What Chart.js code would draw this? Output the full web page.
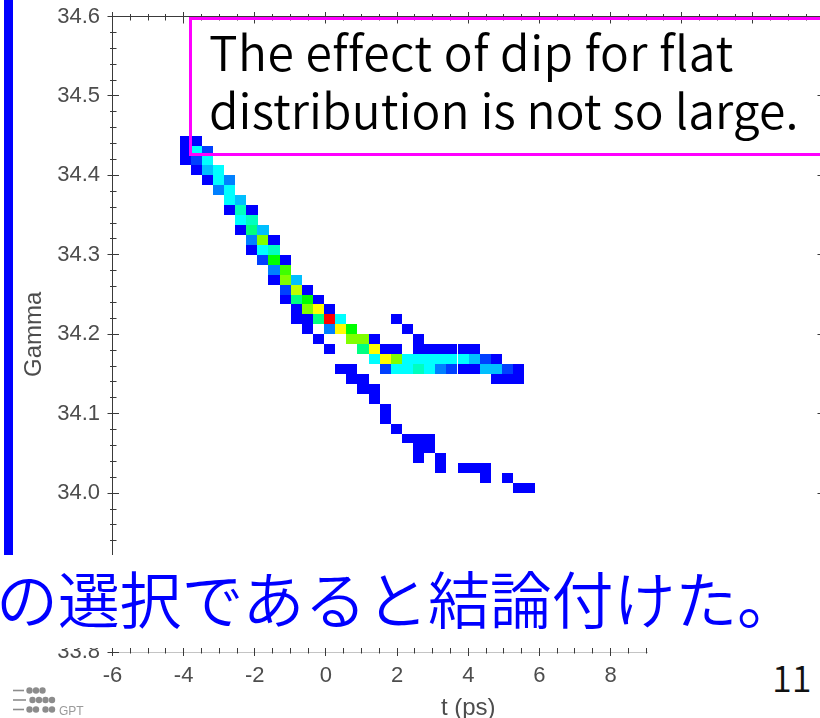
<!DOCTYPE html>
<html lang="ja">
<head>
<meta charset="utf-8">
<title>Gamma – t (ps)</title>
<script src="https://cdn.jsdelivr.net/npm/chart.js@4.4.1/dist/chart.umd.min.js"></script>
<style>
  html, body { margin: 0; padding: 0; overflow: hidden; background: #fff; width: 820px; height: 718px; }
  #stage { position: relative; width: 820px; height: 718px; overflow: hidden; }
  #chart { position: absolute; left: 0; top: 0; }
  .sidebar { position: absolute; left: 4px; top: 0; width: 8.5px; height: 555px; background: #0000ff; }
  .note { position: absolute; left: 188.75px; top: 17.25px; width: 700px; height: 139px;
          box-sizing: border-box; border: 3.5px solid #ff00ff; }
  .jp { font-family: "Noto Sans CJK JP DemiLight", "Noto Sans CJK JP Light", "Noto Sans CJK JP", sans-serif; font-weight: 300; }
  .note-text { position: absolute; left: 209px; top: 20.8px;
               font-size: 48px; line-height: 58.3px; color: #000; white-space: nowrap; }
  .note-text .l1 { letter-spacing: 0.5px; }
  .note-text .l2 { letter-spacing: 0.1px; }
  .conclusion { position: absolute; left: 0; top: 555px; width: 824px; height: 93px; background: #fff; }
  .conclusion span { position: absolute; left: -4px; top: 10.6px;
                     font-size: 62px; line-height: 62px; letter-spacing: -0.2px; color: #0000ff; white-space: nowrap; }
  .corner { position: absolute; left: 648px; top: 648px; width: 176px; height: 70px; background: #fff; }
  .page-no { position: absolute; left: 772px; top: 658px; font-size: 36px; line-height: 36px; color: #111; }
  .logo { position: absolute; left: 0; top: 680px; }
</style>
</head>
<body>
<div id="stage">
  <canvas id="chart" width="824" height="718"></canvas>
  <div class="sidebar"></div>
  <div class="note"></div>
  <div class="note-text jp"><span class="l1">The effect of dip for flat</span><br><span class="l2">distribution is not so large.</span></div>
  <div class="conclusion"><span class="jp">の選択であると結論付けた。</span></div>
  <div class="corner"></div>
  <div class="page-no jp">11</div>
  <svg class="logo" width="100" height="38" viewBox="0 0 100 38">
    <g stroke="#8c8c8c" stroke-width="1.6">
      <line x1="13" y1="10.5" x2="24" y2="10.5"/>
      <line x1="13" y1="20" x2="26" y2="20"/>
      <line x1="13" y1="29.5" x2="24" y2="29.5"/>
    </g>
    <g fill="#8c8c8c">
      <circle cx="29.5" cy="10.5" r="3.2"/><circle cx="36" cy="10.5" r="3.2"/><circle cx="42.5" cy="10.5" r="3.2"/>
      <circle cx="32.5" cy="20" r="3.2"/><circle cx="39" cy="20" r="3.2"/><circle cx="45.5" cy="20" r="3.2"/><circle cx="52" cy="20" r="3.2"/>
      <circle cx="29.5" cy="29.5" r="3.2"/><circle cx="36" cy="29.5" r="3.2"/><circle cx="45.5" cy="29.5" r="3.2"/><circle cx="52" cy="29.5" r="3.2"/>
    </g>
    <text x="59" y="35" font-family="Liberation Sans, Arial, sans-serif" font-size="12" fill="#9a9a9a">GPT</text>
  </svg>
</div>
<script>
// Histogram bin sizes of the (t, Gamma) phase-space density
const T_BIN = 0.3125;      // ps
const GAMMA_BIN = 0.0125;

// Axis ranges and tick steps
const T_RANGE = [-6, 14];
const GAMMA_RANGE = [33.8, 34.6];
const T_MAJOR = 2, T_MINOR = 0.5;
const GAMMA_MAJOR = 0.1, GAMMA_MINOR = 0.02;

// Gamma bin centres of the populated rows, top to bottom
const rowGamma = [
  34.44375, 34.43125, 34.41875, 34.40625, 34.39375, 34.38125, 34.36875, 34.35625,
  34.34375, 34.33125, 34.31875, 34.30625, 34.29375, 34.28125, 34.26875, 34.25625,
  34.24375, 34.23125, 34.21875, 34.20625, 34.19375, 34.18125, 34.16875, 34.15625,
  34.14375, 34.13125, 34.11875, 34.10625, 34.09375, 34.08125, 34.06875, 34.05625,
  34.04375, 34.03125, 34.01875, 34.00625
];

// t bin centres (ps) of the filled cells in each row
const rowT = [
  [-3.96, -3.64],
  [-3.96, -3.64, -3.33],
  [-3.96, -3.64, -3.33],
  [-3.64, -3.33, -3.02],
  [-3.33, -3.02, -2.71],
  [-3.02, -2.71],
  [-2.71, -2.39],
  [-2.71, -2.39, -2.08],
  [-2.39, -2.08],
  [-2.39, -2.08, -1.77],
  [-2.08, -1.77, -1.46],
  [-2.08, -1.77, -1.46],
  [-1.77, -1.46, -1.14],
  [-1.46, -1.14],
  [-1.46, -1.14, -0.83],
  [-1.14, -0.83, -0.52],
  [-1.14, -0.83, -0.52, -0.21],
  [-0.83, -0.52, -0.21, 0.11],
  [-0.83, -0.52, -0.21, 0.11, 0.42, 1.98],
  [-0.52, 0.11, 0.42, 0.73, 2.29],
  [-0.21, 0.73, 1.04, 1.36, 2.61],
  [0.11, 1.04, 1.36, 1.67, 1.98, 2.61, 2.92, 3.23, 3.54, 3.86, 4.17],
  [1.36, 1.67, 1.98, 2.29, 2.61, 2.92, 3.23, 3.54, 3.86, 4.17, 4.48, 4.79],
  [0.42, 0.73, 1.67, 1.98, 2.29, 2.61, 2.92, 3.23, 3.54, 3.86, 4.17, 4.48, 4.79, 5.11, 5.42],
  [0.73, 1.04, 4.79, 5.11, 5.42],
  [1.04, 1.36],
  [1.36],
  [1.67],
  [1.67],
  [1.98],
  [2.29, 2.61, 2.92],
  [2.61, 2.92],
  [2.61, 3.23],
  [3.23, 3.86, 4.17, 4.48],
  [4.48, 5.11],
  [5.42, 5.73]
];

// Particle counts of those cells
const rowCount = [
  [1, 1],
  [1, 5, 2],
  [1, 2, 5],
  [1, 4, 5],
  [1, 5, 3],
  [3, 5],
  [5, 4],
  [1, 6, 1],
  [5, 6],
  [1, 7, 4],
  [3, 11, 1],
  [1, 5, 6],
  [2, 9, 1],
  [3, 10],
  [1, 11, 4],
  [2, 12, 1],
  [1, 7, 9, 1],
  [1, 11, 13, 1],
  [1, 1, 7, 17, 5, 1],
  [1, 3, 13, 9, 1],
  [1, 11, 11, 1, 1],
  [1, 7, 13, 1, 1, 1, 1, 1, 1, 1, 1],
  [5, 13, 11, 5, 5, 5, 5, 5, 5, 4, 2, 1],
  [1, 1, 2, 5, 5, 6, 5, 3, 2, 1, 1, 4, 4, 2, 1],
  [1, 1, 1, 1, 1],
  [1, 1],
  [1],
  [1],
  [1],
  [1],
  [1, 1, 1],
  [1, 1],
  [1, 1],
  [1, 1, 1, 1],
  [1, 1],
  [1, 1]
];

const cells = [];
rowGamma.forEach((g, r) => rowT[r].forEach((t, i) => cells.push({ x: t, y: g, v: rowCount[r][i] })));
const maxCount = Math.max(...cells.map(c => c.v));

// Blue → cyan → green → yellow → red colour scale
const JET = [[0, 0, 255], [0, 255, 255], [0, 255, 0], [255, 255, 0], [255, 0, 0]];
function countColour(v) {
  const s = Math.min(((v - 1) / (maxCount - 1)) * 4, 3.9999);
  const i = Math.floor(s), f = s - i;
  const a = JET[i], b = JET[i + 1];
  return 'rgb(' + a.map((c, k) => Math.round(c + (b[k] - c) * f)).join(',') + ')';
}

const AXIS_COLOUR = '#3a3a3a';
const LABEL_COLOUR = '#4d4d4d';
const FONT = "'Liberation Sans', Arial, sans-serif";

// Draws each histogram cell as a rectangle spanning its bin on both scales
const heatmapCells = {
  id: 'heatmapCells',
  beforeDatasetsDraw(chart) {
    const { ctx, chartArea: a, scales: { x, y } } = chart;
    ctx.save();
    ctx.beginPath();
    ctx.rect(a.left, a.top, a.width, a.height);
    ctx.clip();
    chart.data.datasets[0].data.forEach(p => {
      const x0 = Math.round(x.getPixelForValue(p.x - T_BIN / 2));
      const x1 = Math.round(x.getPixelForValue(p.x + T_BIN / 2));
      const y0 = Math.round(y.getPixelForValue(p.y + GAMMA_BIN / 2));
      const y1 = Math.round(y.getPixelForValue(p.y - GAMMA_BIN / 2));
      ctx.fillStyle = countColour(p.v);
      ctx.fillRect(x0, y0, x1 - x0, y1 - y0);
    });
    ctx.restore();
  }
};

// Frame with major and minor tick marks crossing every side
const axisFrame = {
  id: 'axisFrame',
  afterDatasetsDraw(chart) {
    const { ctx, chartArea: a, scales: { x, y } } = chart;
    const crisp = p => Math.round(p - 0.5) + 0.5;
    const seg = (x1, y1, x2, y2) => { ctx.moveTo(x1, y1); ctx.lineTo(x2, y2); };
    ctx.save();
    ctx.lineWidth = 1;

    // bottom axis line (faint)
    ctx.strokeStyle = '#c4c4c4';
    ctx.beginPath();
    seg(a.left, crisp(a.bottom), a.right, crisp(a.bottom));
    ctx.stroke();

    ctx.strokeStyle = AXIS_COLOUR;
    ctx.beginPath();
    const L = crisp(a.left), T = crisp(a.top), R = crisp(a.right);
    seg(L, a.top - 0.5, L, a.bottom);
    seg(a.left, T, a.right, T);
    seg(R, a.top, R, a.bottom);

    const nY = Math.round((y.max - y.min) / GAMMA_MINOR);
    const perY = Math.round(GAMMA_MAJOR / GAMMA_MINOR);
    for (let i = 0; i <= nY; i++) {
      const p = crisp(y.getPixelForValue(y.min + i * GAMMA_MINOR));
      const major = i % perY === 0;
      seg(a.left - (major ? 5 : 2.5), p, a.left + (major ? 6.5 : 4), p);
      seg(a.right - (major ? 6.5 : 4), p, a.right + (major ? 5 : 2.5), p);
    }
    const nX = Math.round((x.max - x.min) / T_MINOR);
    const perX = Math.round(T_MAJOR / T_MINOR);
    for (let i = 0; i <= nX; i++) {
      const p = crisp(x.getPixelForValue(x.min + i * T_MINOR));
      const major = i % perX === 0;
      seg(p, a.top - (major ? 4.5 : 2.5), p, a.top + (major ? 7 : 4));
      seg(p, a.bottom - (major ? 7 : 4), p, a.bottom + (major ? 4 : 1.5));
    }
    ctx.stroke();
    ctx.restore();
  }
};

// Fixed axis boxes so the plot area sits exactly where intended
function fixBox(size) {
  return s => {
    if (s.isHorizontal()) s.height = size; else s.width = size;
    s.paddingLeft = 0; s.paddingRight = 0; s.paddingTop = 0; s.paddingBottom = 0;
  };
}

new Chart(document.getElementById('chart'), {
  type: 'scatter',
  data: {
    datasets: [{
      label: 'Gamma',
      data: cells,
      pointRadius: 0,
      pointHoverRadius: 0,
      showLine: false
    }]
  },
  options: {
    responsive: false,
    animation: false,
    events: [],
    layout: { padding: { top: 16.5, left: 0, right: 0, bottom: 0 } },
    plugins: { legend: { display: false }, tooltip: { enabled: false } },
    scales: {
      x: {
        type: 'linear',
        position: 'bottom',
        min: T_RANGE[0],
        max: T_RANGE[1],
        afterFit: fixBox(66),
        grid: { display: false, drawTicks: false },
        border: { display: false },
        ticks: {
          stepSize: T_MAJOR,
          padding: 10.5,
          maxRotation: 0,
          autoSkip: false,
          color: LABEL_COLOUR,
          font: { family: FONT, size: 22 }
        },
        title: {
          display: true,
          text: 't (ps)',
          color: LABEL_COLOUR,
          font: { family: FONT, size: 24 },
          padding: { top: 0, bottom: -4.4 }
        }
      },
      y: {
        type: 'linear',
        position: 'left',
        min: GAMMA_RANGE[0],
        max: GAMMA_RANGE[1],
        afterFit: fixBox(112.5),
        grid: { display: false, drawTicks: false },
        border: { display: false },
        ticks: {
          stepSize: GAMMA_MAJOR,
          padding: 12.5,
          autoSkip: false,
          color: LABEL_COLOUR,
          font: { family: FONT, size: 22 },
          callback: v => Number(v).toFixed(1)
        },
        title: {
          display: true,
          text: 'Gamma',
          color: LABEL_COLOUR,
          font: { family: FONT, size: 24 },
          padding: { top: 19.6, bottom: 0 }
        }
      }
    }
  },
  plugins: [heatmapCells, axisFrame]
});
</script>
</body>
</html>
